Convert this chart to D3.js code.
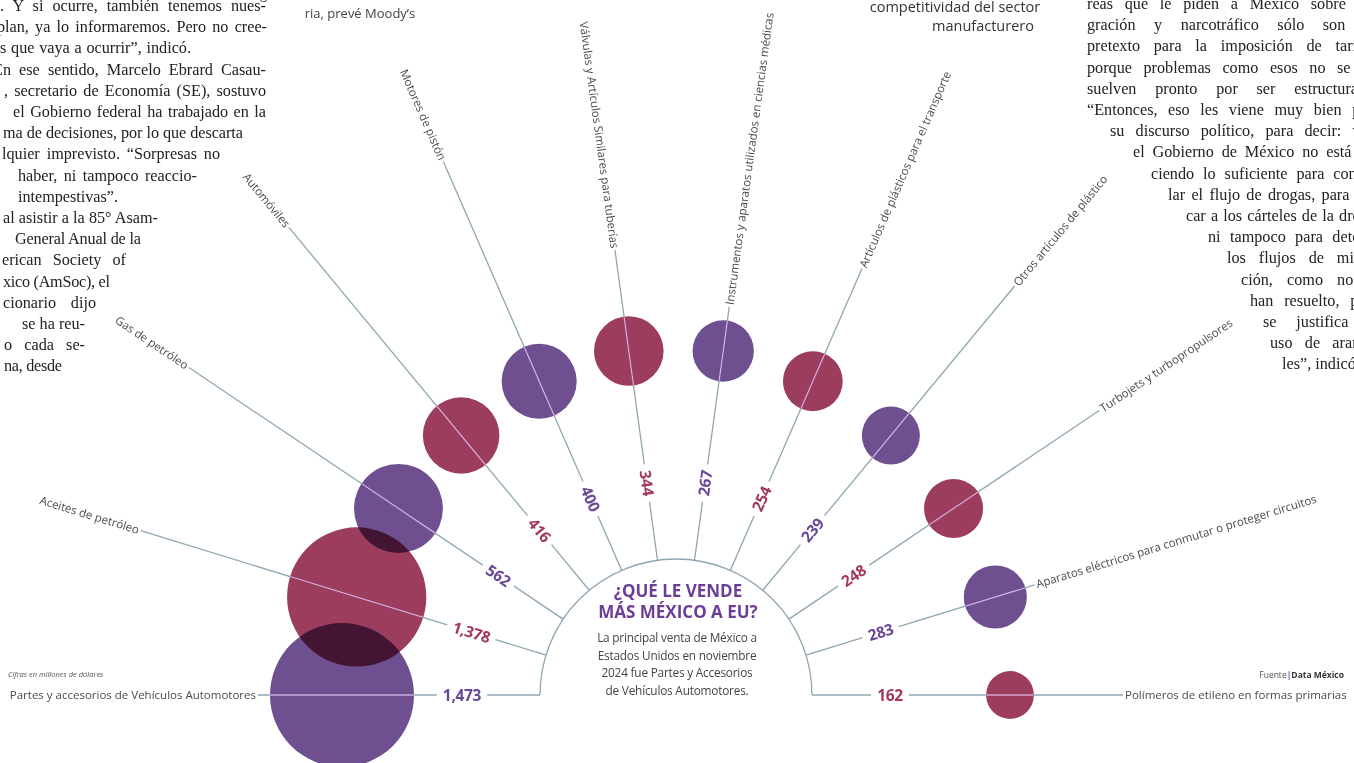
<!DOCTYPE html>
<html><head><meta charset="utf-8">
<script src="https://cdn.jsdelivr.net/npm/d3@7"></script>
<style>
html,body{margin:0;padding:0;background:#fff;overflow:hidden}
svg{display:block}
</style></head>
<body>
<script>
// ---- data ----
const categories = [
  "Partes y accesorios de Vehículos Automotores",
  "Aceites de petróleo",
  "Gas de petróleo",
  "Automóviles",
  "Motores de pistón",
  "Válvulas y Artículos Similares para tuberías",
  "Instrumentos y aparatos utilizados en ciencias médicas",
  "Artículos de plásticos para el transporte",
  "Otros artículos de plástico",
  "Turbojets y turbopropulsores",
  "Aparatos eléctricos para conmutar o proteger circuitos",
  "Polímeros de etileno en formas primarias"
];
const values = [1473, 1378, 562, 416, 400, 344, 267, 254, 239, 248, 283, 162];
const seriesColors = ["#6e5090", "#9c3d5e"];
const valueColors = ["#6a4796", "#a3375e"];

// ---- layout (not data) ----
const spokeOuter = [418, 560, 587, 607, 582, 449, 392, 465, 531, 510, 375, 447];

const titleLines = ["¿QUÉ LE VENDE", "MÁS MÉXICO A EU?"];
const subtitleLines = ["La principal venta de México a", "Estados Unidos en noviembre",
  "2024 fue Partes y Accesorios", "de Vehículos Automotores."];

const leftCol = [
  [". Y si ocurre, también tenemos nues-", 0, 266],
  ["plan, ya lo informaremos. Pero no cree-", -3, 267],
  ["s que vaya a ocurrir”, indicó.", 0, 191],
  ["En ese sentido, Marcelo Ebrard Casau-", -7, 266],
  [", secretario de Economía (SE), sostuvo", 4, 266],
  ["el Gobierno federal ha trabajado en la", 13, 266],
  ["ma de decisiones, por lo que descarta", 3, 243],
  ["lquier imprevisto. “Sorpresas no", 2, 220],
  ["haber, ni tampoco reaccio-", 18, 197],
  ["intempestivas”.", 18, 118],
  ["al asistir a la 85° Asam-", 3, 158],
  ["General Anual de la", 15, 141],
  ["erican Society of", 2, 126],
  ["xico (AmSoc), el", 3, 110],
  ["cionario dijo", 3, 96],
  ["se ha reu-", 22, 85],
  ["o cada se-", 4, 85],
  ["na, desde", 4, 62]
];
const rightCol = [
  ["reas que le piden a México sobre mi-", 1087],
  ["gración y narcotráfico sólo son un", 1087],
  ["pretexto para la imposición de tarifas,", 1087],
  ["porque problemas como esos no se re-", 1087],
  ["suelven pronto por ser estructurales.", 1087],
  ["“Entonces, eso les viene muy bien para", 1087],
  ["su discurso político, para decir: ven,", 1110],
  ["el Gobierno de México no está ha-", 1133],
  ["ciendo lo suficiente para contro-", 1151],
  ["lar el flujo de drogas, para ata-", 1168],
  ["car a los cárteles de la droga,", 1186],
  ["ni tampoco para detener", 1208],
  ["los flujos de migra-", 1227],
  ["ción, como no lo", 1241],
  ["han resuelto, pues", 1250],
  ["se justifica el", 1263],
  ["uso de arance-", 1270],
  ["les”, indicó.", 1282]
];

const W = 1354, H = 763;
const cx = 676, cy = 695, arcR = 136, valueDist = 214;
const svg = d3.select("body").append("svg").attr("width", W).attr("height", H)
  .style("background", "#fff");

// justify a text element between x0 and x1 using word spacing
function justify(sel, x0, x1) {
  const nat = sel.node().getComputedTextLength();
  const txt = sel.text();
  const spaces = (txt.match(/ /g) || []).length;
  const target = x1 - x0;
  if (nat < target && spaces > 0) {
    sel.style("word-spacing", ((target - nat) / spaces) + "px");
  } else if (nat > target) {
    sel.attr("textLength", target).attr("lengthAdjust", "spacing");
  }
}

// background newspaper text
const serif = "'Liberation Serif', 'DejaVu Serif', serif";
const lg = svg.append("g");
leftCol.forEach((d, i) => {
  const t = lg.append("text").attr("x", d[1]).attr("y", 11 + 21.2 * i)
    .style("font-family", serif).style("font-size", "16.2px").attr("fill", "#222")
    .text(d[0]);
  justify(t, d[1], d[2]);
});
const rg = svg.append("g");
rightCol.forEach((d, i) => {
  const t = rg.append("text").attr("x", d[1]).attr("y", 9 + 21.2 * i)
    .style("font-family", serif).style("font-size", "16.2px").attr("fill", "#222")
    .text(d[0]);
  if (i < rightCol.length - 1) justify(t, d[1], 1380);
});

const sans = "'Open Sans', 'Noto Sans', sans-serif";
// headline fragments
svg.append("text").attr("x", 360).attr("y", -1.5).attr("text-anchor", "middle")
  .style("font-family", sans).style("font-size", "13px").attr("fill", "#444")
  .text("en grado de inversión la deuda sobera-");
svg.append("text").attr("x", 360).attr("y", 18).attr("text-anchor", "middle")
  .style("font-family", sans).style("font-size", "13px").attr("fill", "#444")
  .text("ria, prevé Moody’s");
svg.append("text").attr("x", 955).attr("y", 12).attr("text-anchor", "middle")
  .style("font-family", sans).style("font-size", "14.5px").attr("fill", "#333")
  .text("competitividad del sector");
svg.append("text").attr("x", 983).attr("y", 31).attr("text-anchor", "middle")
  .style("font-family", sans).style("font-size", "14.5px").attr("fill", "#333")
  .text("manufacturero");

// scales
const anglePoint = d3.scalePoint().domain(categories).range([180, 0]);
// spokes bunch slightly toward the vertical, as in the original fan
const angle = name => {
  const u = anglePoint(name);
  return u + 1.3 * Math.sin(2 * u * Math.PI / 180);
};
const rScale = d3.scaleSqrt().domain([0, d3.max(values)]).range([0, 72]);
const fmt = d3.format(",");
const rad = a => a * Math.PI / 180;
const pt = (name, dist) => {
  const a = rad(angle(name));
  return [cx + dist * Math.cos(a), cy - dist * Math.sin(a)];
};
const circleDist = name => 334 + 14 * Math.pow(Math.sin(rad(angle(name))), 6);

const data = categories.map((c, i) => ({ c, v: values[i], i }));

// arc
const arcGen = d3.arc().innerRadius(arcR).outerRadius(arcR)
  .startAngle(-Math.PI / 2).endAngle(Math.PI / 2);
svg.append("path").attr("d", arcGen()).attr("transform", `translate(${cx},${cy})`)
  .attr("fill", "none").attr("stroke", "#8fa7b3").attr("stroke-width", 1.3);

// value labels (measure first)
const vg = svg.append("g");
const vlabels = vg.selectAll("text").data(data).join("text")
  .attr("transform", d => {
    const [x, y] = pt(d.c, valueDist);
    const a = angle(d.c);
    const rot = a > 90 ? 180 - a : -a;
    return `translate(${x},${y}) rotate(${rot})`;
  })
  .attr("text-anchor", "middle").attr("dy", "0.36em")
  .style("font-family", sans).style("font-size", "15.5px").style("font-weight", 700)
  .style("letter-spacing", "-0.3px")
  .attr("fill", d => valueColors[d.i % 2])
  .text(d => fmt(d.v));
vlabels.each(function(d) { d.w = this.getComputedTextLength(); });

// spokes
const segs = [];
data.forEach(d => {
  segs.push([d, arcR, valueDist - d.w / 2 - 6]);
  segs.push([d, valueDist + d.w / 2 + 6, spokeOuter[d.i]]);
});
const lineG = svg.insert("g", "g");
lineG.selectAll("line").data(segs).join("line")
  .attr("x1", s => pt(s[0].c, s[1])[0]).attr("y1", s => pt(s[0].c, s[1])[1])
  .attr("x2", s => pt(s[0].c, s[2])[0]).attr("y2", s => pt(s[0].c, s[2])[1])
  .attr("stroke", "#8fa7b3").attr("stroke-width", 1.3);

// circles
const circG = svg.append("g");
circG.selectAll("circle").data(data).join("circle")
  .attr("cx", d => pt(d.c, circleDist(d.c))[0])
  .attr("cy", d => pt(d.c, circleDist(d.c))[1])
  .attr("r", d => rScale(d.v))
  .attr("fill", d => seriesColors[d.i % 2])
  .style("mix-blend-mode", "multiply");

// light line overlay inside circles
const clip = svg.append("defs").append("clipPath").attr("id", "circClip");
clip.selectAll("circle").data(data).join("circle")
  .attr("cx", d => pt(d.c, circleDist(d.c))[0])
  .attr("cy", d => pt(d.c, circleDist(d.c))[1])
  .attr("r", d => rScale(d.v));
svg.append("g").attr("clip-path", "url(#circClip)")
  .selectAll("line").data(data).join("line")
  .attr("x1", d => pt(d.c, 250)[0]).attr("y1", d => pt(d.c, 250)[1])
  .attr("x2", d => pt(d.c, 430)[0]).attr("y2", d => pt(d.c, 430)[1])
  .attr("stroke", d => d.i % 2 ? "#e6a8d8" : "#d2b4ea").attr("stroke-width", 1.3);

// category labels
svg.append("g").selectAll("text").data(data).join("text")
  .attr("transform", d => {
    const [x, y] = pt(d.c, spokeOuter[d.i] + 2);
    const a = angle(d.c);
    const rot = a > 90 ? 180 - a : -a;
    return `translate(${x},${y}) rotate(${rot})`;
  })
  .attr("text-anchor", d => angle(d.c) > 90 ? "end" : "start")
  .attr("dy", "0.35em")
  .style("font-family", sans).style("font-size", "11.5px").attr("fill", "#4a4a4a")
  .text(d => d.c);

// center title
svg.append("g").selectAll("text").data(titleLines).join("text")
  .attr("x", 678).attr("y", (d, i) => 597 + 21 * i).attr("text-anchor", "middle")
  .style("font-family", sans).style("font-size", "17px").style("font-weight", 700)
  .attr("fill", "#6b3d96").text(d => d);
svg.append("g").selectAll("text").data(subtitleLines).join("text")
  .attr("x", 677).attr("y", (d, i) => 642 + 17.7 * i).attr("text-anchor", "middle")
  .style("font-family", sans).style("font-size", "11.8px").attr("fill", "#444")
  .style("letter-spacing", "-0.2px").text(d => d);

// notes
svg.append("text").attr("x", 8).attr("y", 677)
  .style("font-family", sans).style("font-size", "7.5px").style("font-style", "italic")
  .attr("fill", "#555").text("Cifras en millones de dólares");
const src = svg.append("text").attr("x", 1344).attr("y", 678).attr("text-anchor", "end")
  .style("font-family", sans).style("font-size", "8.5px").attr("fill", "#555");
src.append("tspan").text("Fuente");
src.append("tspan").attr("fill", "#7a4aa8").style("font-weight", 700).text("|");
src.append("tspan").attr("fill", "#333").style("font-weight", 700).text("Data México");
</script>
</body></html>
